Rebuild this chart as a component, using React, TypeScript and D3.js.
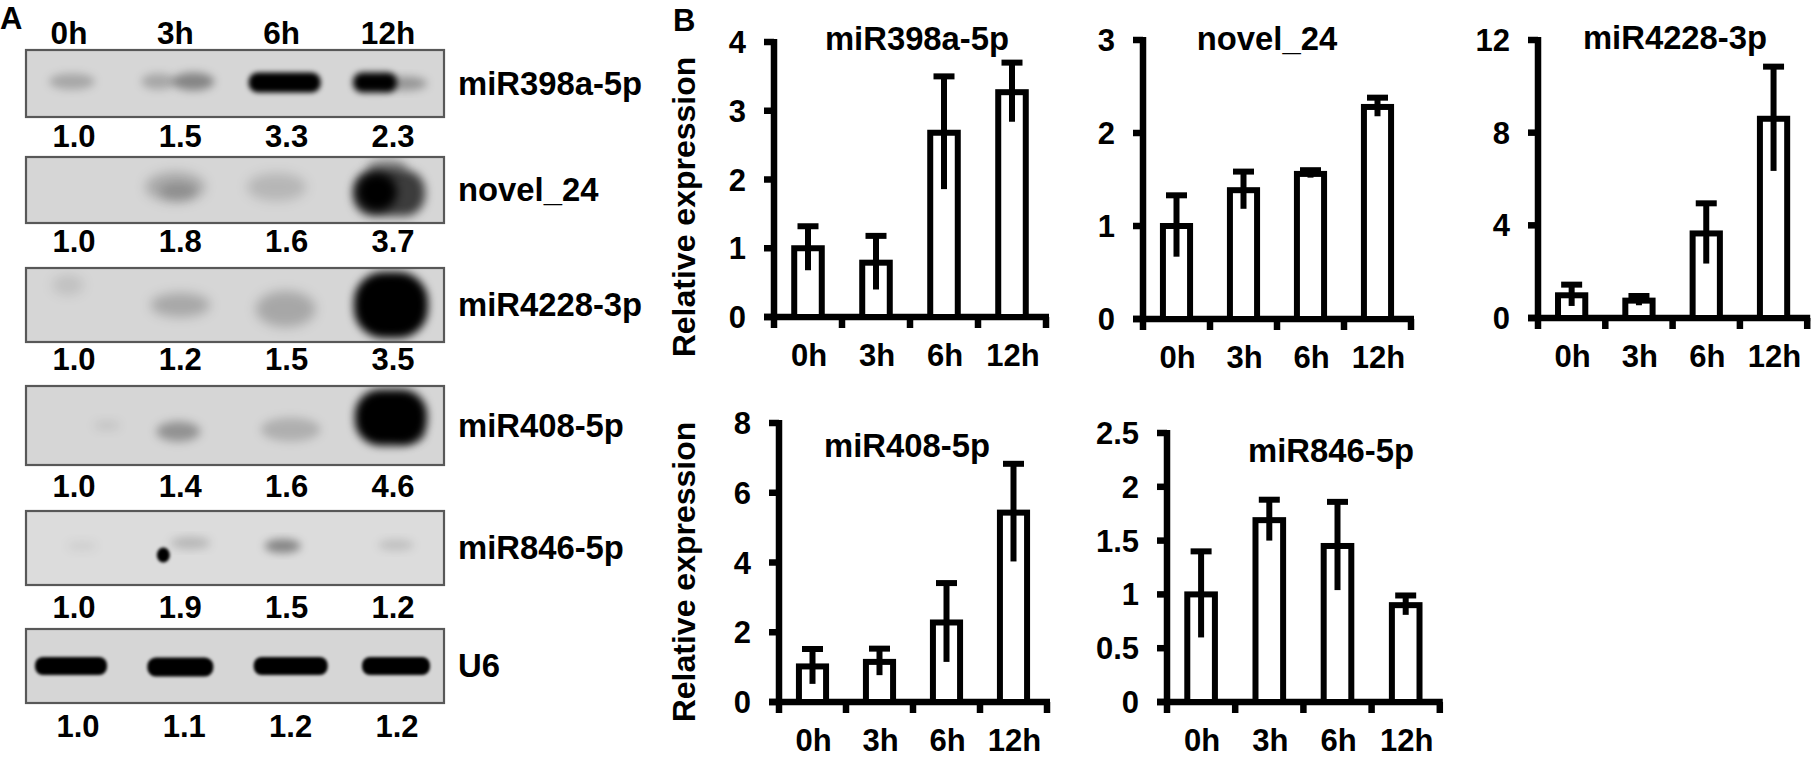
import React from "react";
import * as d3 from "d3";

// ---------------- DATA ----------------
const timepoints = ["0h", "3h", "6h", "12h"];
const blotProbes = ["miR398a-5p", "novel_24", "miR4228-3p", "miR408-5p", "miR846-5p", "U6"];

const ratioMiR398a = [1.0, 1.5, 3.3, 2.3];
const ratioNovel24 = [1.0, 1.8, 1.6, 3.7];
const ratioMiR4228 = [1.0, 1.2, 1.5, 3.5];
const ratioMiR408 = [1.0, 1.4, 1.6, 4.6];
const ratioMiR846 = [1.0, 1.9, 1.5, 1.2];
const ratioU6 = [1.0, 1.1, 1.2, 1.2];

const meanMiR398a = [1.0, 0.79, 2.68, 3.27];
const sdMiR398a = [0.32, 0.39, 0.82, 0.43];
const meanNovel24 = [1.0, 1.385, 1.56, 2.28];
const sdNovel24 = [0.33, 0.2, 0.04, 0.1];
const meanMiR4228 = [0.98, 0.75, 3.65, 8.6];
const sdMiR4228 = [0.46, 0.2, 1.3, 2.25];
const meanMiR408 = [1.02, 1.15, 2.28, 5.43];
const sdMiR408 = [0.5, 0.38, 1.13, 1.4];
const meanMiR846 = [1.0, 1.69, 1.45, 0.9];
const sdMiR846 = [0.4, 0.19, 0.41, 0.09];

const ticksMiR398a = [0, 1, 2, 3, 4];
const ticksNovel24 = [0, 1, 2, 3];
const ticksMiR4228 = [0, 4, 8, 12];
const ticksMiR408 = [0, 2, 4, 6, 8];
const ticksMiR846 = [0, 0.5, 1, 1.5, 2, 2.5];

const yAxisTitle = "Relative expression";

// ---------------- LAYOUT / STYLE ----------------
const FONT = "'Liberation Sans', Arial, Helvetica, sans-serif";
const FS_NUM = 31;
const FS_LABEL = 32.8;

// Arial-bold advance widths (em) used to pin text lengths
const ADV: Record<string, number> = {
  "0": 0.556, "1": 0.556, "2": 0.556, "3": 0.556, "4": 0.556, "5": 0.556, "6": 0.556, "7": 0.556, "8": 0.556, "9": 0.556,
  ".": 0.278, h: 0.611, m: 0.889, i: 0.278, R: 0.722, a: 0.556, "-": 0.333, p: 0.611, n: 0.611, o: 0.611, v: 0.556,
  e: 0.556, l: 0.278, _: 0.556, U: 0.722, A: 0.722, B: 0.722, t: 0.333, x: 0.556, r: 0.389, s: 0.556, " ": 0.278,
};
const textLen = (s: string, size: number) => s.split("").reduce((acc, ch) => acc + (ADV[ch] ?? 0.556), 0) * size;

function T(props: { x?: number; y?: number; size: number; children: string; anchor?: string; transform?: string }) {
  const { x = 0, y = 0, size, children, anchor = "start", transform } = props;
  return (
    <text
      x={x}
      y={y}
      fontSize={size}
      textAnchor={anchor}
      transform={transform}
      textLength={textLen(children, size)}
      lengthAdjust="spacingAndGlyphs"
    >
      {children}
    </text>
  );
}

const blotRatios = [ratioMiR398a, ratioNovel24, ratioMiR4228, ratioMiR408, ratioMiR846, ratioU6];
const blotBoxes = [
  [50, 117],
  [157, 223],
  [268, 342],
  [386, 465],
  [511, 585],
  [629, 703],
];
const ratioBaselines = [147, 252, 370, 497, 618, 737];
const boxX0 = 26;
const boxX1 = 444;

// band appearance: [lane, dx, dy, rx, ry, alpha, blur, kind(0 ellipse, 1 rounded bar)]
const bandShapes: number[][][] = [
  [
    [0, 0, -2, 23, 8, 0.22, 4, 0],
    [1, -20, -2, 17, 8, 0.22, 4, 0],
    [1, 15, -2, 21, 9, 0.38, 4, 0],
    [2, 0, -1, 36, 10, 1, 2.5, 1],
    [3, -16, -1, 22, 10, 1, 3, 1],
    [3, 14, 0, 22, 7, 0.3, 4, 0],
  ],
  [
    [1, -3, -3, 30, 15, 0.22, 6, 0],
    [1, 0, 2, 18, 9, 0.15, 5, 0],
    [2, -8, -3, 30, 14, 0.15, 6, 0],
    [3, -2, 3, 36, 23, 0.72, 5, 1],
    [3, -14, 2, 20, 19, 1, 5, 0],
    [3, -4, -22, 20, 8, 0.4, 5, 0],
  ],
  [
    [0, -4, -20, 16, 10, 0.1, 6, 0],
    [1, 2, 0, 30, 12, 0.22, 6, 0],
    [2, 1, 4, 30, 18, 0.22, 6, 0],
    [3, 0, 0, 37, 33, 1, 4, 1],
  ],
  [
    [0, 35, 0, 14, 6, 0.07, 5, 0],
    [1, 0, 6, 22, 10, 0.32, 5, 0],
    [2, 6, 4, 30, 12, 0.18, 5, 0],
    [3, 20, 9, 14, 9, 0.32, 4, 0],
    [3, 0, -8, 36, 28, 1, 4, 1],
  ],
  [
    [0, 10, -2, 16, 6, 0.05, 5, 0],
    [1, -15, 7, 6.5, 7.5, 1, 1.8, 0],
    [1, 12, -5, 20, 6, 0.18, 5, 0],
    [2, -2, -2, 18, 7, 0.4, 4, 0],
    [3, 5, -3, 18, 6, 0.12, 4, 0],
  ],
  [
    [0, -1, 0, 36, 9, 1, 1.8, 1],
    [1, 2, 1, 33, 9.5, 1, 1.8, 1],
    [2, 6, 0, 37, 9, 1, 1.8, 1],
    [3, 5, 0, 34, 9, 1, 1.8, 1],
  ],
];

type ChartCfg = {
  title: string;
  mean: number[];
  sd: number[];
  ticks: number[];
  axisX: number;
  y0: number;
  yTop: number;
  band: number;
  titleX: number;
  titleY: number;
};

const charts: ChartCfg[] = [
  { title: "miR398a-5p", mean: meanMiR398a, sd: sdMiR398a, ticks: ticksMiR398a, axisX: 774, y0: 317, yTop: 42, band: 68, titleX: 917, titleY: 50 },
  { title: "novel_24", mean: meanNovel24, sd: sdNovel24, ticks: ticksNovel24, axisX: 1143, y0: 319, yTop: 40, band: 67, titleX: 1267, titleY: 50 },
  { title: "miR4228-3p", mean: meanMiR4228, sd: sdMiR4228, ticks: ticksMiR4228, axisX: 1538, y0: 318, yTop: 40, band: 67.3, titleX: 1675, titleY: 49 },
  { title: "miR408-5p", mean: meanMiR408, sd: sdMiR408, ticks: ticksMiR408, axisX: 779, y0: 702, yTop: 423, band: 67, titleX: 907, titleY: 457 },
  { title: "miR846-5p", mean: meanMiR846, sd: sdMiR846, ticks: ticksMiR846, axisX: 1167, y0: 702, yTop: 433, band: 68.2, titleX: 1331, titleY: 462 },
];

const AX_W = 6.5;
const BAR_W = 6;

function BarChart({ c }: { c: ChartCfg }) {
  const yMax = c.ticks[c.ticks.length - 1];
  const y = d3.scaleLinear().domain([0, yMax]).range([c.y0, c.yTop]);
  const x = d3
    .scaleBand<string>()
    .domain(timepoints)
    .range([c.axisX, c.axisX + c.band * timepoints.length])
    .paddingInner(0)
    .paddingOuter(0);
  const barW = x.bandwidth() * 0.405;
  const capW = 21;
  const fmt = d3.format("~g");
  const boundaries = d3.range(timepoints.length + 1).map((i) => c.axisX + i * x.step());
  return (
    <g>
      <T x={c.titleX} y={c.titleY} anchor="middle" size={FS_LABEL}>
        {c.title}
      </T>
      <line x1={c.axisX} x2={c.axisX} y1={y(yMax) - 3} y2={c.y0 + 3} stroke="#000" strokeWidth={AX_W} />
      {c.ticks.map((t) => (
        <g key={t}>
          <line x1={c.axisX - 10} x2={c.axisX} y1={y(t)} y2={y(t)} stroke="#000" strokeWidth={AX_W} />
          <T x={c.axisX - 28} y={y(t) + 11} anchor="end" size={FS_NUM}>
            {fmt(t)}
          </T>
        </g>
      ))}
      <line
        x1={c.axisX - 10}
        x2={boundaries[boundaries.length - 1] + 3}
        y1={c.y0}
        y2={c.y0}
        stroke="#000"
        strokeWidth={AX_W}
      />
      {boundaries.map((bx, i) => (
        <line key={i} x1={bx} x2={bx} y1={c.y0} y2={c.y0 + 11} stroke="#000" strokeWidth={AX_W} />
      ))}
      {timepoints.map((tp, i) => {
        const cx = (x(tp) as number) + x.bandwidth() / 2;
        const m = c.mean[i];
        const s = c.sd[i];
        return (
          <g key={tp}>
            <rect
              x={cx - barW / 2}
              y={y(m)}
              width={barW}
              height={c.y0 - y(m)}
              fill="#fff"
              stroke="#000"
              strokeWidth={BAR_W}
            />
            <line x1={cx} x2={cx} y1={y(m - s)} y2={y(m + s)} stroke="#000" strokeWidth={BAR_W} />
            <line x1={cx - capW / 2} x2={cx + capW / 2} y1={y(m + s)} y2={y(m + s)} stroke="#000" strokeWidth={BAR_W} />
            <T x={cx + 1} y={c.y0 + 49} anchor="middle" size={FS_NUM}>
              {tp}
            </T>
          </g>
        );
      })}
    </g>
  );
}

function Blots() {
  const lane = d3.scalePoint<string>().domain(timepoints).range([72, 391]);
  const fmt = d3.format(".1f");
  const blurs = Array.from(new Set(bandShapes.flat().map((b) => b[6])));
  const fid = (b: number) => `blur${String(b).replace(".", "_")}`;
  return (
    <g>
      <defs>
        {blurs.map((b) => (
          <filter key={b} id={fid(b)} x="-50%" y="-50%" width="200%" height="200%">
            <feGaussianBlur stdDeviation={b} />
          </filter>
        ))}
        {blotBoxes.map(([t, b], i) => (
          <clipPath key={i} id={`clip${i}`}>
            <rect x={boxX0} y={t} width={boxX1 - boxX0} height={b - t} />
          </clipPath>
        ))}
      </defs>
      <T x={0} y={29} size={FS_NUM}>
        A
      </T>
      {timepoints.map((tp) => (
        <T key={tp} x={(lane(tp) as number) - 3} y={44} anchor="middle" size={FS_NUM + 0.5}>
          {tp}
        </T>
      ))}
      {blotBoxes.map(([t, b], r) => {
        const cy = (t + b) / 2;
        return (
          <g key={r}>
            <rect x={boxX0} y={t} width={boxX1 - boxX0} height={b - t} fill={r === 4 ? "#dcdcdc" : "#d6d6d6"} />
            <g clipPath={`url(#clip${r})`}>
              {bandShapes[r].map((s, k) => {
                const [li, dx, dy, rx, ry, a, bl, kind] = s;
                const cx = (lane(timepoints[li]) as number) + dx;
                return kind === 1 ? (
                  <rect
                    key={k}
                    x={cx - rx}
                    y={cy + dy - ry}
                    width={rx * 2}
                    height={ry * 2}
                    rx={ry * 0.9}
                    fill="#000"
                    fillOpacity={a}
                    filter={`url(#${fid(bl)})`}
                  />
                ) : (
                  <ellipse
                    key={k}
                    cx={cx}
                    cy={cy + dy}
                    rx={rx}
                    ry={ry}
                    fill="#000"
                    fillOpacity={a}
                    filter={`url(#${fid(bl)})`}
                  />
                );
              })}
            </g>
            <rect x={boxX0} y={t} width={boxX1 - boxX0} height={b - t} fill="none" stroke="#585858" strokeWidth={2.2} />
            <T x={458} y={cy + 11} size={FS_LABEL}>
              {blotProbes[r]}
            </T>
            {blotRatios[r].map((v, i) => (
              <T
                key={i}
                x={(lane(timepoints[i]) as number) + (r === 5 ? 6 : 2)}
                y={ratioBaselines[r]}
                anchor="middle"
                size={FS_NUM}
              >
                {fmt(v)}
              </T>
            ))}
          </g>
        );
      })}
    </g>
  );
}

export default function App() {
  return (
    <svg
      width={1811}
      height={768}
      viewBox="0 0 1811 768"
      style={{ position: "absolute", left: 0, top: 0, background: "#fff" }}
      fontFamily={FONT}
      fontWeight="bold"
    >
      <rect x={0} y={0} width={1811} height={768} fill="#fff" />
      <Blots />
      <T x={673} y={31} size={FS_NUM}>
        B
      </T>
      <T transform="translate(695,207) rotate(-90)" anchor="middle" size={32}>
        {yAxisTitle}
      </T>
      <T transform="translate(695,572) rotate(-90)" anchor="middle" size={32}>
        {yAxisTitle}
      </T>
      {charts.map((c) => (
        <BarChart key={c.title} c={c} />
      ))}
    </svg>
  );
}
